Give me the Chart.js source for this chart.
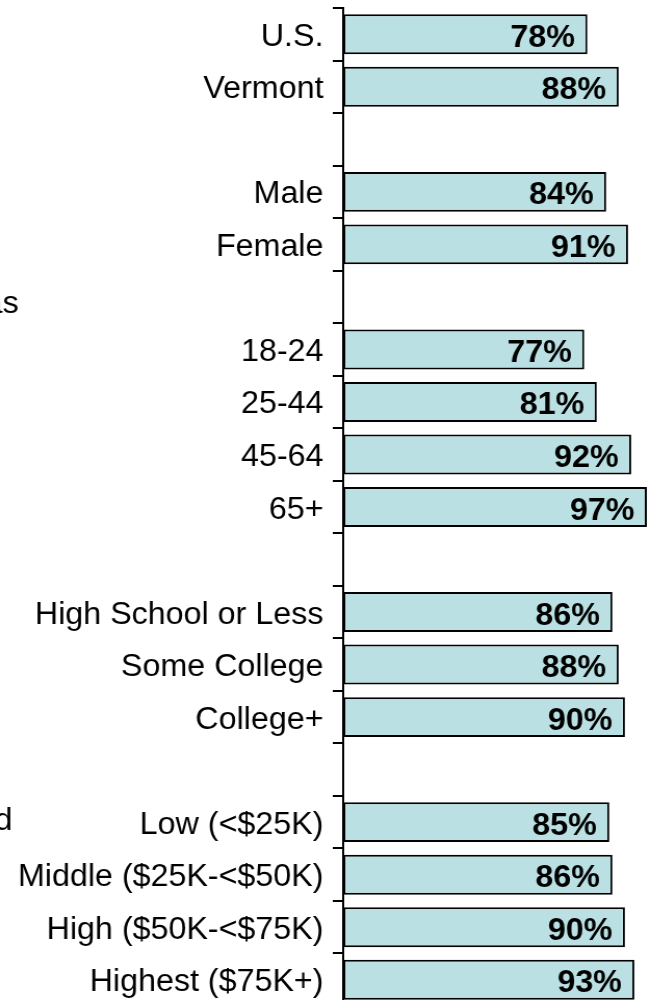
<!DOCTYPE html>
<html>
<head>
<meta charset="utf-8">
<script src="https://cdn.jsdelivr.net/npm/chart.js@4/dist/chart.umd.min.js"></script>
<style>
  html, body { margin: 0; padding: 0; background: #fff; overflow: hidden; width: 652px; height: 1000px; }
  #wrap { position: absolute; left: 0; top: 0; width: 631px; height: 1010px; transform: scaleX(1.04); transform-origin: 0 0; }
</style>
</head>
<body>
<div id="wrap"><canvas id="main-chart" width="631" height="1010"></canvas></div>
<script>
const categories = ['U.S.', 'Vermont', '', 'Male', 'Female', '', '18-24', '25-44', '45-64', '65+', '',
  'High School or Less', 'Some College', 'College+', '',
  'Low (<$25K)', 'Middle ($25K-<$50K)', 'High ($50K-<$75K)', 'Highest ($75K+)'];
const values = [78, 88, null, 84, 91, null, 77, 81, 92, 97, null, 86, 88, 90, null, 85, 86, 90, 93];
// group titles, mostly cut off at the left edge
const groupTitles = ['Has', 'Household'];
const groupRows = [5, 15];

const FONT = "'Liberation Sans', Arial, sans-serif";

const valueLabels = {
  id: 'valueLabels',
  afterDatasetsDraw(chart) {
    const ctx = chart.ctx;
    const meta = chart.getDatasetMeta(0);
    ctx.save();
    ctx.font = 'bold 31px ' + FONT;
    ctx.fillStyle = '#000';
    ctx.textAlign = 'right';
    ctx.textBaseline = 'middle';
    meta.data.forEach((bar, i) => {
      if (values[i] == null) return;
      ctx.fillText(values[i] + '%', bar.x - 12, bar.y + 4);
    });
    ctx.restore();
  }
};

const titles = {
  id: 'titles',
  afterDraw(chart) {
    const ctx = chart.ctx;
    const y = chart.scales.y;
    ctx.save();
    ctx.font = '31px ' + FONT;
    ctx.fillStyle = '#000';
    ctx.textAlign = 'right';
    ctx.textBaseline = 'middle';
    ctx.fillText(groupTitles[0], 18, y.getPixelForValue(groupRows[0]) + 8);
    ctx.fillText(groupTitles[1], 12, y.getPixelForValue(groupRows[1]) - 1);
    ctx.restore();
  }
};

new Chart(document.getElementById('main-chart'), {
  type: 'bar',
  data: {
    labels: categories,
    datasets: [{
      data: values,
      backgroundColor: '#bae0e3',
      borderColor: '#000',
      borderWidth: 2,
      borderSkipped: false,
      barPercentage: 0.76,
      categoryPercentage: 1,
    }]
  },
  options: {
    indexAxis: 'y',
    responsive: false,
    animation: false,
    layout: { padding: { top: 8, bottom: 4, left: 0, right: 0 } },
    plugins: {
      legend: { display: false },
      tooltip: { enabled: false },
    },
    scales: {
      x: {
        display: false,
        min: 0,
        max: 100,
      },
      y: {
        afterFit: scale => {
          scale.width = 330;
          scale.paddingTop = 0;
          scale.paddingBottom = 0;
        },
        ticks: {
          color: '#000',
          font: { family: FONT, size: 31 },
          padding: 9,
          labelOffset: 3,
          autoSkip: false,
        },
        grid: {
          offset: true,
          drawOnChartArea: false,
          drawTicks: true,
          tickLength: 10,
          color: '#000',
          lineWidth: 2,
        },
        border: { display: true, color: '#000', width: 2 },
      },
    },
  },
  plugins: [valueLabels, titles],
});
</script>
</body>
</html>
